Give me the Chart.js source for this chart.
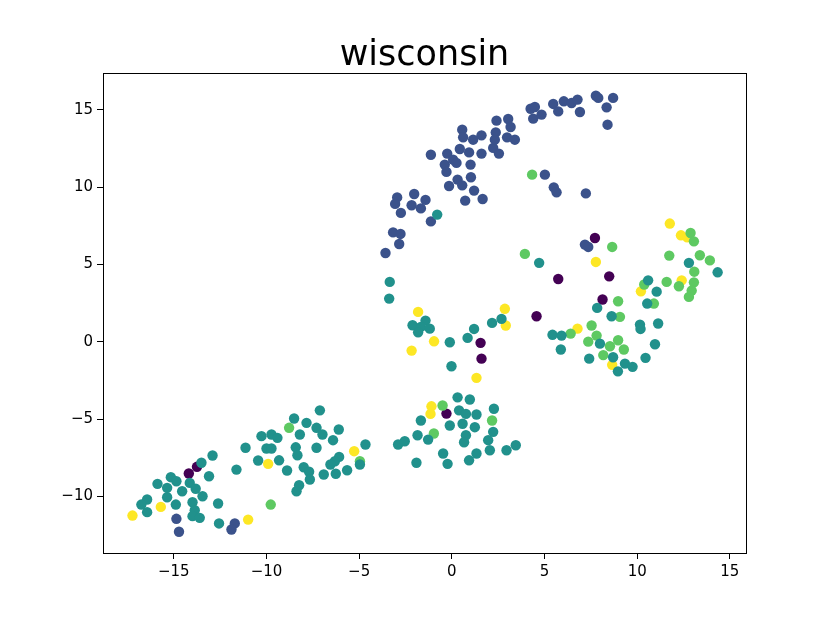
<!DOCTYPE html>
<html lang="en">
<head>
  <meta charset="UTF-8" />
  <title>wisconsin</title>
  <script src="https://cdn.jsdelivr.net/npm/chart.js"></script>
  <style>
    body { margin: 0; background: #fff; }
    canvas { display: block; }
  </style>
</head>
<body>
<canvas id="scatterChart" width="830" height="623"></canvas>
<script>
  // points per class as [x, y]
  const class0 = [
    [7.72, 6.71], [5.74, 4.06], [8.49, 4.23], [8.13, 2.73], [4.57, 1.65],
    [1.55, -0.07], [1.60, -1.09], [-0.29, -4.64], [-13.75, -8.08], [-14.19, -8.51]
  ];
  const class1 = [
    [0.56, 13.71], [0.61, 13.21], [1.15, 13.06], [1.60, 13.34], [2.37, 13.53],
    [2.23, 12.53], [0.43, 12.46], [0.93, 12.24], [1.60, 12.16], [2.54, 12.16],
    [-1.13, 12.09], [-0.25, 12.16], [0.07, 11.77], [-0.38, 11.45], [0.25, 11.56],
    [1.01, 11.45], [-0.29, 10.98], [1.03, 10.63], [0.31, 10.48], [0.56, 10.11],
    [-0.15, 10.07], [1.20, 9.77], [0.72, 9.12], [1.66, 9.23], [-2.03, 9.55],
    [-1.42, 9.17], [-2.95, 9.33], [-3.06, 8.91], [-2.17, 8.82], [-1.67, 8.62],
    [-2.75, 8.33], [-1.13, 7.78], [-3.17, 7.07], [-2.77, 6.97], [-2.84, 6.32],
    [-3.58, 5.74], [2.41, 14.29], [3.04, 14.40], [3.17, 13.88], [2.32, 13.06],
    [2.98, 13.21], [3.40, 13.06], [4.25, 15.06], [4.48, 15.17], [4.39, 14.42],
    [4.84, 14.68], [5.47, 15.37], [5.74, 14.89], [6.04, 15.54], [6.46, 15.43],
    [6.78, 15.65], [6.91, 14.85], [7.77, 15.90], [7.90, 15.76], [8.70, 15.76],
    [8.35, 15.15], [8.40, 14.03], [5.02, 10.80], [5.50, 9.98], [5.65, 9.66],
    [7.23, 9.59], [7.18, 6.28], [7.36, 6.13], [-14.86, -11.44], [-14.72, -12.28],
    [-11.71, -11.74], [-11.89, -12.13]
  ];
  const class2 = [
    [-0.79, 8.22], [4.71, 5.10], [7.84, 2.19], [8.62, 1.65], [2.68, 1.48],
    [5.43, 0.45], [5.92, 0.40], [7.99, -0.12], [5.88, -0.50], [7.41, -1.09],
    [8.70, -1.00], [8.96, -1.91], [12.79, 5.10], [14.34, 4.49], [10.59, 3.97],
    [11.05, 3.24], [10.54, 2.47], [10.15, 1.11], [10.18, 0.83], [11.13, 1.18],
    [10.96, -0.16], [10.45, -1.04], [9.34, -1.41], [9.75, -1.62], [-3.38, 2.79],
    [-3.35, 3.87], [-2.12, 1.07], [-1.42, 1.37], [-1.67, 0.96], [-1.82, 0.61],
    [-1.19, 0.85], [-0.11, -0.03], [-0.02, -1.58], [1.20, 0.83], [0.85, 0.25],
    [2.17, 1.22], [0.31, -3.59], [0.97, -3.73], [0.39, -4.43], [0.76, -4.66],
    [1.33, -4.70], [2.27, -4.33], [-1.67, -5.09], [-0.11, -5.41], [0.58, -5.30],
    [1.24, -5.52], [2.23, -5.82], [-1.85, -6.04], [-1.28, -6.32], [0.76, -6.04],
    [0.66, -6.49], [1.96, -6.36], [-2.90, -6.64], [-2.54, -6.43], [-0.47, -7.22],
    [1.33, -7.22], [0.93, -7.66], [2.05, -7.01], [2.95, -7.01], [3.45, -6.69],
    [-1.91, -7.82], [-0.23, -7.89],
    [-11.13, -6.85], [-12.91, -7.35], [-13.51, -7.82], [-11.62, -8.26], [-13.10, -8.69],
    [-15.16, -8.75], [-14.86, -9.01], [-15.88, -9.18], [-14.14, -9.12], [-15.36, -9.44],
    [-13.82, -9.50], [-14.55, -9.66], [-13.45, -9.98], [-15.36, -10.05], [-16.44, -10.19],
    [-16.75, -10.52], [-14.89, -10.52], [-13.99, -10.37], [-12.61, -10.45], [-16.44, -11.01],
    [-13.87, -10.88], [-13.99, -11.27], [-13.60, -11.38], [-12.56, -11.74],
    [-7.12, -4.43], [-8.51, -4.96], [-7.84, -5.24], [-8.20, -5.99], [-7.30, -5.56],
    [-6.98, -5.99], [-6.10, -5.67], [-6.41, -6.36], [-10.27, -6.10], [-9.73, -5.99],
    [-9.41, -6.21], [-10.00, -6.90], [-9.73, -6.90], [-8.42, -6.82], [-8.33, -7.33],
    [-7.30, -6.85], [-4.66, -6.64], [-6.08, -7.44], [-6.31, -7.72], [-6.55, -7.93],
    [-4.96, -7.93], [-10.45, -7.67], [-9.32, -7.66], [-8.89, -8.32], [-7.99, -8.11],
    [-7.70, -8.40], [-7.66, -8.90], [-6.91, -8.58], [-6.26, -8.53], [-5.65, -8.30],
    [-8.24, -9.27], [-8.38, -9.66]
  ];
  const class3 = [
    [4.33, 10.80], [8.65, 6.13], [3.94, 5.68], [8.97, 2.62], [9.07, 1.61],
    [7.54, 1.05], [6.41, 0.53], [7.81, 0.40], [7.36, 0.01], [8.53, -0.29],
    [8.97, 0.10], [8.17, -0.86], [11.73, 5.57], [12.88, 7.03], [13.06, 6.49],
    [13.38, 5.59], [13.92, 5.26], [13.08, 4.53], [11.59, 3.87], [12.25, 3.59],
    [13.06, 3.84], [12.94, 3.31], [12.79, 2.90], [10.38, 3.70], [10.90, 2.47],
    [9.28, -0.50], [-0.50, -4.12], [2.17, -5.09], [-0.97, -5.93], [-8.78, -5.56],
    [-4.96, -7.72], [-9.77, -10.52]
  ];
  const class4 = [
    [7.77, 5.16], [11.76, 7.64], [12.36, 6.88], [12.70, 6.75], [12.40, 3.97],
    [10.20, 3.26], [6.78, 0.85], [8.65, -1.49], [2.86, 2.13], [2.91, 1.05],
    [-1.82, 1.93], [-0.96, 0.03], [-2.17, -0.57], [1.33, -2.33], [-1.10, -4.17],
    [-1.15, -4.66], [-5.27, -7.07], [-9.91, -7.89], [-15.70, -10.67], [-17.23, -11.23],
    [-10.99, -11.49]
  ];

  const classColors = ['#440154', '#3b528b', '#21918c', '#5ec962', '#fde725'];
  const xTicks = [-15, -10, -5, 0, 5, 10, 15];
  const yTicks = [-10, -5, 0, 5, 10, 15];

  const toPoints = arr => arr.map(p => ({ x: p[0], y: p[1] }));
  const minus = v => (v < 0 ? '\u2212' + Math.abs(v) : String(v));

  // matplotlib-style box round the plot area
  const frame = {
    id: 'frame',
    afterDatasetsDraw(chart) {
      const { ctx, chartArea: a } = chart;
      ctx.save();
      ctx.strokeStyle = '#000';
      ctx.lineWidth = 1;
      ctx.strokeRect(a.left + 0.5, a.top + 0.5, a.right - a.left, a.bottom - a.top);
      ctx.restore();
    }
  };

  function axis(ticks, min, max, size, horizontal) {
    return {
      type: 'linear',
      min, max,
      afterBuildTicks(scale) { scale.ticks = ticks.map(v => ({ value: v })); },
      afterFit(scale) {
        if (horizontal) scale.height = size; else scale.width = size;
      },
      grid: { drawOnChartArea: false, drawTicks: true, tickLength: 6, tickColor: '#000' },
      border: { display: true, color: '#000' },
      ticks: {
        color: '#000',
        font: { family: 'DejaVu Sans', size: 15 },
        padding: 4,
        maxRotation: 0,
        callback: v => minus(v)
      }
    };
  }

  // teal first so the rarer classes sit on top
  const order = [2, 1, 3, 4, 0];
  const allClasses = [class0, class1, class2, class3, class4];
  const datasets = order.map(i => ({
    data: toPoints(allClasses[i]),
    backgroundColor: classColors[i],
    borderWidth: 0,
    pointRadius: 5.2,
    pointHoverRadius: 5.2
  }));

  new Chart(document.getElementById('scatterChart').getContext('2d'), {
    type: 'scatter',
    data: { datasets },
    options: {
      responsive: false,
      animation: false,
      layout: { padding: { left: 0, right: 84, top: 0, bottom: 0 } },
      plugins: {
        legend: { display: false },
        tooltip: { enabled: false },
        title: {
          display: true,
          fullSize: false,
          text: 'wisconsin',
          color: '#000',
          font: { family: 'DejaVu Sans', size: 35, weight: 'normal', lineHeight: 1 },
          padding: { top: 38, bottom: 0 }
        }
      },
      scales: {
        x: axis(xTicks, -18.82, 15.87, 70, true),
        y: axis(yTicks, -13.65, 17.37, 103, false)
      }
    },
    plugins: [frame]
  });
</script>
</body>
</html>
